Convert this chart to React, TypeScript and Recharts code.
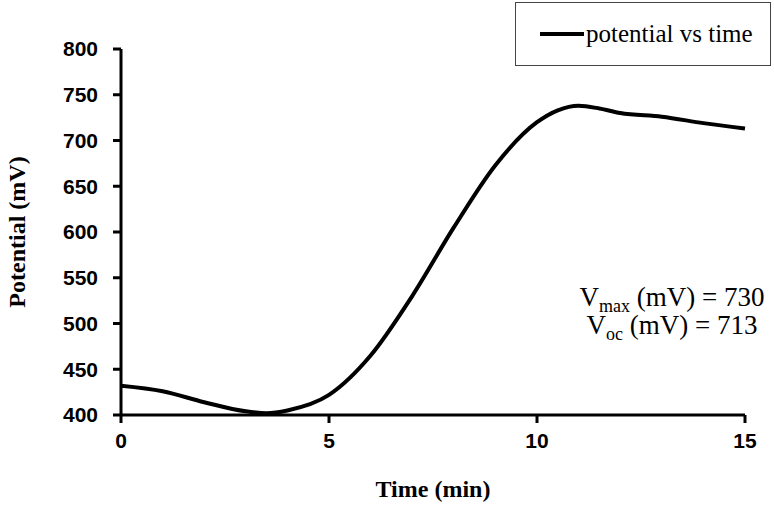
import React from "react";
import { LineChart, Line, XAxis, YAxis, Label } from "recharts";

// time (min) and potential (mV)
const times = [0, 1, 2, 3, 3.5, 4, 5, 6, 7, 8, 9, 10, 10.5, 11, 11.5, 12, 13, 14, 15];
const potentials = [432, 426, 414, 404, 402, 405, 422, 465, 530, 605, 673, 720, 733, 738, 735, 730, 726, 719, 713];

const xTicks = [0, 5, 10, 15];
const yTicks = [400, 450, 500, 550, 600, 650, 700, 750, 800];

const seriesName = "potential vs time";
const vMax = 730;
const vOc = 713;

const data = times.map((t, i) => ({ time: t, potential: potentials[i] }));

const serif = "'Liberation Serif', 'Times New Roman', serif";
const sans = "'Liberation Sans', Arial, sans-serif";

const tickStyle = { fill: "#000", fontSize: 21, fontWeight: "bold", fontFamily: sans };

const App = () => {
  return (
    <div style={{ position: "absolute", left: 0, top: 0, width: 774, height: 527, background: "#fff" }}>
      <LineChart
        width={774}
        height={527}
        data={data}
        margin={{ top: 49, right: 29, left: 0, bottom: 0 }}
      >
        <XAxis
          dataKey="time"
          type="number"
          domain={[0, 15]}
          ticks={xTicks}
          height={112}
          stroke="#000"
          strokeWidth={3}
          tickSize={8}
          tick={tickStyle}
          tickMargin={10}
        >
          <Label
            value="Time (min)"
            position="insideBottom"
            offset={30}
            style={{ fill: "#000", fontSize: 24, fontWeight: "bold", fontFamily: serif }}
          />
        </XAxis>
        <YAxis
          type="number"
          domain={[400, 800]}
          ticks={yTicks}
          width={121}
          stroke="#000"
          strokeWidth={3}
          tickSize={8}
          tick={tickStyle}
          tickMargin={15}
        >
          <Label
            value="Potential (mV)"
            angle={-90}
            position="insideLeft"
            offset={16}
            style={{ fill: "#000", fontSize: 24, fontWeight: "bold", fontFamily: serif, textAnchor: "middle" }}
          />
        </YAxis>
        <Line
          type="monotone"
          dataKey="potential"
          name={seriesName}
          stroke="#000"
          strokeWidth={4}
          dot={false}
          isAnimationActive={false}
        />
      </LineChart>

      {/* legend box, top right */}
      <div
        style={{
          position: "absolute",
          left: 515,
          top: 2,
          width: 256,
          height: 64,
          border: "1px solid #444",
          background: "#fff",
          display: "flex",
          alignItems: "center",
          boxSizing: "border-box",
          paddingLeft: 24,
          fontFamily: serif,
          fontSize: 25,
          color: "#000",
        }}
      >
        <span style={{ display: "inline-block", width: 44, height: 4, background: "#000", marginRight: 2 }} />
        <span>{seriesName}</span>
      </div>

      <div
        style={{
          position: "absolute",
          left: 567,
          top: 283,
          width: 210,
          textAlign: "center",
          fontFamily: serif,
          fontSize: 27,
          lineHeight: "28px",
          color: "#000",
        }}
      >
        <div>
          V<sub style={{ fontSize: 18, lineHeight: 0 }}>max</sub> (mV) = {vMax}
        </div>
        <div>
          V<sub style={{ fontSize: 18, lineHeight: 0 }}>oc</sub> (mV) = {vOc}
        </div>
      </div>
    </div>
  );
};

export default App;
